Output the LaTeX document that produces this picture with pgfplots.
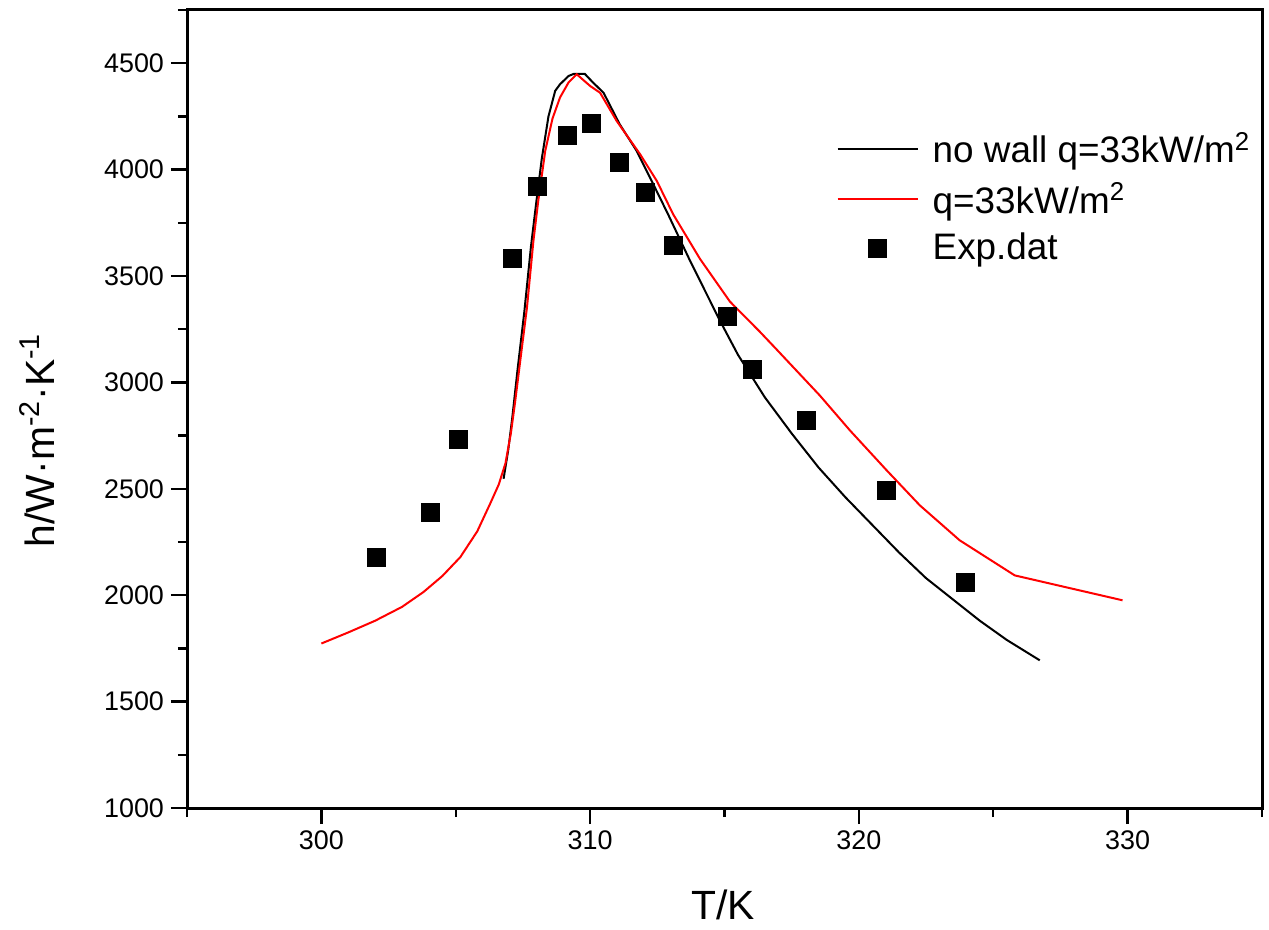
\documentclass[border=0pt]{standalone}
\usepackage{fontspec}
\setmainfont{Liberation Sans}
\usepackage{pgfplots}
\pgfplotsset{compat=1.18}
\begin{document}
\begin{tikzpicture}
\useasboundingbox (0,0) rectangle (634.5bp,465bp);
\begin{axis}[
  at={(93.5bp,61bp)}, anchor=south west,
  width=537.5bp, height=399bp, scale only axis,
  xmin=295, xmax=335, ymin=1000, ymax=4750,
  xtick={300,310,320,330}, minor xtick={295,305,315,325,335},
  ytick={1000,1500,2000,2500,3000,3500,4000,4500},
  minor ytick={1250,1750,2250,2750,3250,3750,4250,4750},
  tick align=outside, tick pos=left,
  major tick length=8bp, minor tick length=4.5bp,
  tick style={black, line width=1.2bp},
  axis line style={line width=1.5bp},
  /pgf/number format/assume math mode=true,
  /pgf/number format/1000 sep={},
  ticklabel style={font=\fontsize{13.5}{15}\selectfont},
  xlabel={T/K},
  ylabel={h/W·m\textsuperscript{-2}·K\textsuperscript{-1}},
  label style={font=\fontsize{20.5}{24}\selectfont},
  xlabel style={at={(axis description cs:0.4986,-0.121)}, anchor=center},
  ylabel style={at={(axis description cs:-0.139,0.461)}, anchor=center},
  legend style={at={(0.604,0.85)}, anchor=north west, draw=none, fill=none,
    font=\fontsize{18.5}{21}\selectfont, row sep=6.5bp, inner sep=0pt,
    nodes={inner sep=1bp}, column sep=6bp},
  legend cell align=left,
  legend image code/.code={\draw[mark repeat=2,mark phase=2,#1] plot coordinates {(0bp,0bp) (20bp,0bp) (40bp,0bp)};},
]
\addplot[black, line width=1bp] coordinates {
(306.78,2547) (306.95,2680) (307.1,2830) (307.3,3060) (307.55,3330) (307.8,3640)
(308.0,3850) (308.2,4050) (308.45,4250) (308.7,4370) (308.88,4401) (309.2,4440)
(309.4,4450) (309.8,4450) (310.1,4410) (310.5,4361) (311.1,4213) (311.73,4088)
(312.23,3962) (312.9,3790) (313.72,3571) (314.83,3290) (315.5,3130) (316.5,2930)
(317.5,2760) (318.5,2600) (319.5,2460) (320.5,2330) (321.5,2200) (322.5,2080)
(323.6,1970) (324.5,1880) (325.5,1790) (326.73,1694)
};
\addlegendentry{no wall q=33kW/m\textsuperscript{2}}
\addplot[red, line width=1bp] coordinates {
(300,1773) (301,1825) (302,1880) (303,1945) (303.8,2015) (304.5,2090) (305.17,2179)
(305.8,2300) (306.28,2430) (306.6,2520) (306.85,2620) (307.05,2760) (307.2,2900)
(307.4,3102) (307.65,3352) (307.89,3665) (308.07,3853) (308.33,4088) (308.6,4240)
(308.88,4339) (309.2,4410) (309.5,4448) (310.0,4393) (310.37,4361) (310.99,4228)
(311.86,4072) (312.48,3947) (313.09,3790) (314.09,3580) (315.2,3380) (316.3,3240)
(316.9,3160) (318.55,2938) (319.67,2774) (321.04,2586) (322.27,2422) (323.75,2258)
(325.8,2093) (329.81,1976)
};
\addlegendentry{q=33kW/m\textsuperscript{2}}
\addplot[only marks, mark=square*, mark size=4.5bp, black] coordinates {
(302.04,2178) (304.05,2389) (305.1,2732) (307.1,3581) (308.03,3919) (309.14,4163)
(310.04,4219) (311.08,4036) (312.04,3891) (313.09,3642) (315.09,3309) (316.02,3060)
(318.03,2821) (321.04,2492) (323.98,2061)
};
\addlegendentry{Exp.dat}
\end{axis}
\end{tikzpicture}
\end{document}
